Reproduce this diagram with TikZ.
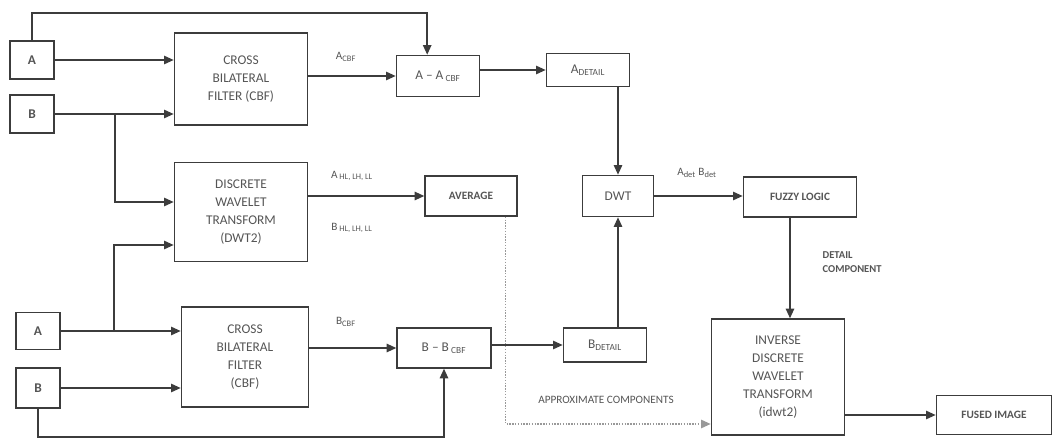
\documentclass[tikz,border=0pt]{standalone}
\usepackage{fontspec}
\setmainfont{Carlito}
\definecolor{linegray}{RGB}{60,60,60}
\definecolor{textgray}{RGB}{85,85,85}
\usetikzlibrary{arrows.meta,calc}

\begin{document}
\begin{tikzpicture}[x=0.025cm, y=-0.025cm,
    blk/.style={draw=linegray, line width=1pt, align=center, inner sep=1pt, text=textgray,
      font=\fontsize{9.5}{12.8}\selectfont},
    tag/.style={blk, font=\bfseries\fontsize{8}{10}\selectfont},
    lbl/.style={text=textgray, inner sep=1pt, font=\fontsize{8}{10}\selectfont},
    flow/.style={draw=linegray, line width=1pt, -{Triangle[length=0.24cm,width=0.21cm]}},
    approx/.style={draw=gray!80, densely dotted}]
  \useasboundingbox (0,0) rectangle (1055,440);

  % inputs
  \node[blk, minimum width=1.1cm, minimum height=0.95cm] (a1) at (32,60) {\textbf{A}};
  \node[blk, minimum width=1.1cm, minimum height=0.95cm] (b1) at (32,114) {\textbf{B}};
  \node[blk, minimum width=1.1cm, minimum height=0.93cm] (a2) at (38,331) {\textbf{A}};
  \node[blk, minimum width=1.1cm, minimum height=1.0cm] (b2) at (38,388) {\textbf{B}};

  % processing blocks
  \node[blk, minimum width=3.33cm, minimum height=2.3cm] (cbf1) at (241,79) {CROSS\\BILATERAL\\FILTER (CBF)};
  \node[blk, minimum width=3.33cm, minimum height=2.48cm] (dwt2) at (241,212) {DISCRETE\\WAVELET\\TRANSFORM\\(DWT2)};
  \node[blk, minimum width=3.18cm, minimum height=2.5cm] (cbf2) at (245,357) {CROSS\\BILATERAL\\FILTER\\(CBF)};
  \node[blk, minimum width=2.08cm, minimum height=1.03cm] (amin) at (438,76) {A -- A\,\textsubscript{CBF}};
  \node[blk, minimum width=2.35cm, minimum height=1.0cm] (bmin) at (444,348) {B -- B\,\textsubscript{CBF}};
  \node[blk, minimum width=2.08cm, minimum height=0.83cm] (adet) at (588,70) {A\textsubscript{DETAIL}};
  \node[blk, minimum width=2.08cm, minimum height=0.85cm] (bdet) at (605,345) {B\textsubscript{DETAIL}};
  \node[tag, minimum width=2.3cm, minimum height=1.0cm] (avg) at (471,196) {AVERAGE};
  \node[blk, minimum width=1.78cm, minimum height=1.03cm] (dwt) at (618,196) {DWT};
  \node[tag, minimum width=2.83cm, minimum height=1.0cm] (fuzzy) at (800,197) {FUZZY LOGIC};
  \node[blk, minimum width=3.33cm, minimum height=2.9cm] (idwt) at (778,377) {INVERSE\\DISCRETE\\WAVELET\\TRANSFORM\\(idwt2)};
  \node[tag, minimum width=2.88cm, minimum height=0.98cm] (fused) at (994,415) {FUSED IMAGE};

  % labels
  \node[lbl] (acbf) at (346,57) {A\textsubscript{CBF}};
  \node[lbl] (ahl) at (352,176) {A\,\textsubscript{HL, LH, LL}};
  \node[lbl] (bhl) at (352,228) {B\,\textsubscript{HL, LH, LL}};
  \node[lbl] (bcbf) at (346,322) {B\textsubscript{CBF}};
  \node[lbl] (detab) at (697,173) {A\textsubscript{det} B\textsubscript{det}};
  \node[lbl, anchor=west, align=left, font=\bfseries\fontsize{7.5}{10}\selectfont] (detail) at (821,262) {DETAIL\\COMPONENT};
  \node[lbl] (approxlbl) at (606,400) {APPROXIMATE COMPONENTS};

  % helper points
  \coordinate (topline) at (0,13);
  \coordinate (bottomline) at (0,437);
  \coordinate (approxline) at (0,424);
  \coordinate (bsplit) at (115,114);
  \coordinate (asplit) at (114,331);
  \coordinate (avgdrop) at ($(avg.south east)+(-12,0)$);

  % connectors
  \draw[flow] (a1.north) -- (a1.north |- topline) -| ([xshift=-0.27cm]amin.north);
  \draw[flow] (a1.east) -- (a1.east -| cbf1.west);
  \draw[flow] (b1.east) -- (b1.east -| cbf1.west);
  \draw[flow] (bsplit) |- ($(dwt2.west)+(0,-10)$);
  \draw[flow] (a2.east) -- (a2.east -| cbf2.west);
  \draw[flow] (asplit) |- ($(dwt2.west)+(0,33)$);
  \draw[flow] (b2.east) -- (b2.east -| cbf2.west);
  \draw[flow] (b2.south) -- (b2.south |- bottomline) -| (bmin.south);
  \draw[flow] (cbf1.east |- amin) -- (amin.west);
  \draw[flow] (amin.east |- adet) -- (adet.west);
  \draw[flow] (adet.south -| dwt.north) -- (dwt.north);
  \draw[flow] (dwt2.east |- avg) -- (avg.west);
  \draw[flow, approx] (avgdrop) |- (idwt.west |- approxline);
  \draw[flow] (cbf2.east |- bmin) -- (bmin.west);
  \draw[flow] (bmin.east |- bdet) -- (bdet.west);
  \draw[flow] (bdet.north -| dwt.south) -- (dwt.south);
  \draw[flow] (dwt.east) -- (dwt.east -| fuzzy.west);
  \draw[flow] ([xshift=-0.25cm]fuzzy.south) -- ([xshift=-0.25cm]fuzzy.south |- idwt.north);
  \draw[flow] (idwt.east |- fused) -- (fused.west);
\end{tikzpicture}
\end{document}
